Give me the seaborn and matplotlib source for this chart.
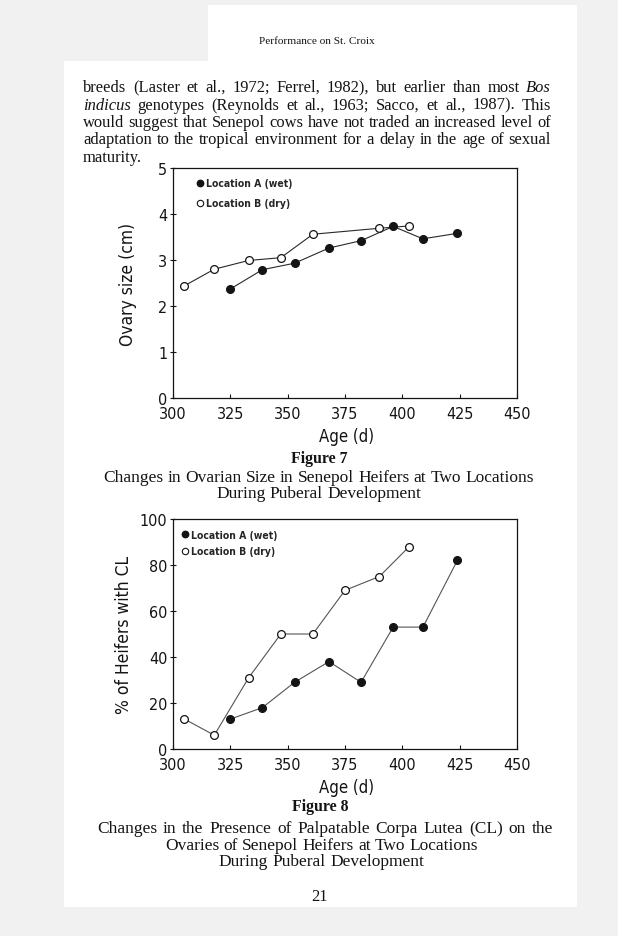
import matplotlib
matplotlib.use("Agg")
import matplotlib.pyplot as plt
import seaborn as sns
import pandas as pd
from matplotlib.patches import Rectangle
from matplotlib.lines import Line2D

W, H = 630, 937

# Figure 7: ovary size (cm) by age (d)
age_a_size = [325, 339, 353, 368, 382, 396, 409, 424]
size_a = [2.37, 2.79, 2.93, 3.26, 3.42, 3.73, 3.46, 3.58]
age_b_size = [305, 318, 333, 347, 361, 390, 403]
size_b = [2.44, 2.80, 2.99, 3.05, 3.56, 3.69, 3.74]

# Figure 8: % of heifers with CL by age (d)
age_a_cl = [325, 339, 353, 368, 382, 396, 409, 424]
cl_a = [13, 18, 29, 38, 29, 53, 53, 82]
age_b_cl = [305, 318, 333, 347, 361, 375, 390, 403]
cl_b = [13, 6, 31, 50, 50, 69, 75, 88]

x_ticks = [300, 325, 350, 375, 400, 425, 450]
size_ticks = [0, 1, 2, 3, 4, 5]
cl_ticks = [0, 20, 40, 60, 80, 100]
legend_labels = ["Location A (wet)", "Location B (dry)"]

header = "Performance on St. Croix"
body_lines = [
    "breeds (Laster et al., 1972; Ferrel, 1982), but earlier than most _Bos",
    "_indicus genotypes (Reynolds et al., 1963; Sacco, et al., 1987). This",
    "would suggest that Senepol cows have not traded an increased level of",
    "adaptation to the tropical environment for a delay in the age of sexual",
]
body_last = "maturity."
cap7 = ["Changes in Ovarian Size in Senepol Heifers at Two Locations",
        "During Puberal Development"]
cap8 = ["Changes in the Presence of Palpatable Corpa Lutea (CL) on the",
        "Ovaries of Senepol Heifers at Two Locations",
        "During Puberal Development"]

INK = "#141414"
SERIF = ["Liberation Serif", "DejaVu Serif"]
PLOTFONT = ["DejaVu Sans"]

sns.set_style("ticks")
plt.rcParams["font.family"] = PLOTFONT
plt.rcParams["font.stretch"] = "condensed"

fig = plt.figure(figsize=(W / 100, H / 100), dpi=100, facecolor="#f1f1f1")

# page background pieces, kept behind the axes
for x0, y0, x1, y1 in [(64, 62, 577, 908), (208, 6, 577, 63), (618, 0, 630, 937)]:
    fig.patches.append(Rectangle((x0 / W, 1 - y1 / H), (x1 - x0) / W, (y1 - y0) / H,
                                 transform=fig.transFigure, facecolor="white",
                                 edgecolor="none", zorder=-5))

renderer = fig.canvas.get_renderer()


def fit_size(text, width, weight="normal"):
    t = fig.text(0, 0, text.replace("_", ""), fontsize=10, family=SERIF,
                 weight=weight, stretch="normal")
    w = t.get_window_extent(renderer).width
    t.remove()
    return 10 * width / w


def put_line(text, y, x0, x1, size, weight="normal"):
    objs = []
    for w in text.split():
        style = "normal"
        if w.startswith("_"):
            w, style = w[1:], "italic"
        objs.append(fig.text(0, 1 - y / H, w, fontsize=size, family=SERIF,
                             style=style, weight=weight, stretch="normal",
                             va="center", ha="left", color=INK))
    widths = [t.get_window_extent(renderer).width for t in objs]
    gap = (x1 - x0 - sum(widths)) / max(len(objs) - 1, 1)
    x = x0
    for t, w in zip(objs, widths):
        t.set_x(x / W)
        x += w + gap


def serif_text(x, y, s, size, ha="center", weight="normal"):
    fig.text(x / W, 1 - y / H, s, family=SERIF, fontsize=size, weight=weight,
             stretch="normal", ha=ha, va="center", color=INK)


serif_text(317, 41, header, fit_size(header, 115))

body_size = fit_size(body_lines[2], 466)
for i, line in enumerate(body_lines):
    put_line(line, 88 + i * 17.5, 83, 551, body_size)
serif_text(83, 158, body_last, body_size, ha="left")

cap_size = fit_size(cap8[0], 440)
fig_size = fit_size("Figure 7", 57, "bold")
serif_text(319, 459, "Figure 7", fig_size, weight="bold")
put_line(cap7[0], 478, 103, 534, cap_size)
put_line(cap7[1], 494, 216, 421, cap_size)

serif_text(320, 807, "Figure 8", fig_size, weight="bold")
put_line(cap8[0], 829, 97, 553, cap_size)
put_line(cap8[1], 846, 165, 478, cap_size)
put_line(cap8[2], 862, 218, 424, cap_size)

serif_text(320, 897, "21", body_size)


def draw_panel(ax, ax_age, a_vals, bx_age, b_vals, ylim, yticks, ylabel,
               line_color, leg_xy, leg_spacing, ylab_x):
    df_a = pd.DataFrame({"age": ax_age, "val": a_vals})
    df_b = pd.DataFrame({"age": bx_age, "val": b_vals})
    sns.lineplot(data=df_b, x="age", y="val", ax=ax, color=line_color, lw=0.8,
                 marker="o", markersize=5.6, markerfacecolor="white",
                 markeredgecolor=INK, markeredgewidth=0.9, zorder=3)
    sns.lineplot(data=df_a, x="age", y="val", ax=ax, color=line_color, lw=0.8,
                 marker="o", markersize=5.6, markerfacecolor=INK,
                 markeredgecolor=INK, markeredgewidth=0.9, zorder=4)
    ax.set_xlim(300, 450)
    ax.set_ylim(*ylim)
    ax.set_xticks(x_ticks)
    ax.set_yticks(yticks)
    ax.set_facecolor("none")
    for s in ax.spines.values():
        s.set_visible(True)
        s.set_linewidth(0.9)
        s.set_color(INK)
    ax.tick_params(axis="x", direction="in", length=3, width=0.8, pad=6,
                   labelsize=11.5, colors=INK)
    ax.tick_params(axis="y", direction="inout", length=5, width=0.8, pad=1.5,
                   labelsize=11.5, colors=INK)
    ax.set_xlabel("Age (d)", fontsize=12, color=INK)
    ax.set_ylabel(ylabel, fontsize=12.5, color=INK)
    ax.xaxis.label.set_verticalalignment("center")
    ax.yaxis.label.set_verticalalignment("center")
    ax.xaxis.set_label_coords(0.505, -0.165)
    ax.yaxis.set_label_coords(ylab_x, 0.5)

    handles = [Line2D([], [], ls="none", marker="o", markersize=4.6,
                      markerfacecolor=INK, markeredgecolor=INK),
               Line2D([], [], ls="none", marker="o", markersize=4.6,
                      markerfacecolor="white", markeredgecolor=INK,
                      markeredgewidth=0.8)]
    ax.legend(handles, legend_labels, loc="upper left", bbox_to_anchor=leg_xy,
              frameon=False, handlelength=0, handletextpad=0.55,
              borderpad=0, borderaxespad=0, labelspacing=leg_spacing,
              prop={"family": PLOTFONT, "size": 7.5, "weight": "bold",
                    "stretch": "condensed"})


ax7 = fig.add_axes([173 / W, 1 - 399 / H, (517 - 173) / W, (399 - 169) / H])
draw_panel(ax7, age_a_size, size_a, age_b_size, size_b, (0, 5), size_ticks,
           "Ovary size (cm)", "#2a2a2a", (0.078, 0.955), 0.95, -0.131)

ax8 = fig.add_axes([173 / W, 1 - 750 / H, (517 - 173) / W, (750 - 520) / H])
draw_panel(ax8, age_a_cl, cl_a, age_b_cl, cl_b, (0, 100), cl_ticks,
           "% of Heifers with CL", "#555555", (0.036, 0.952), 0.6, -0.143)

fig.savefig("out.png", dpi=100, facecolor=fig.get_facecolor())
